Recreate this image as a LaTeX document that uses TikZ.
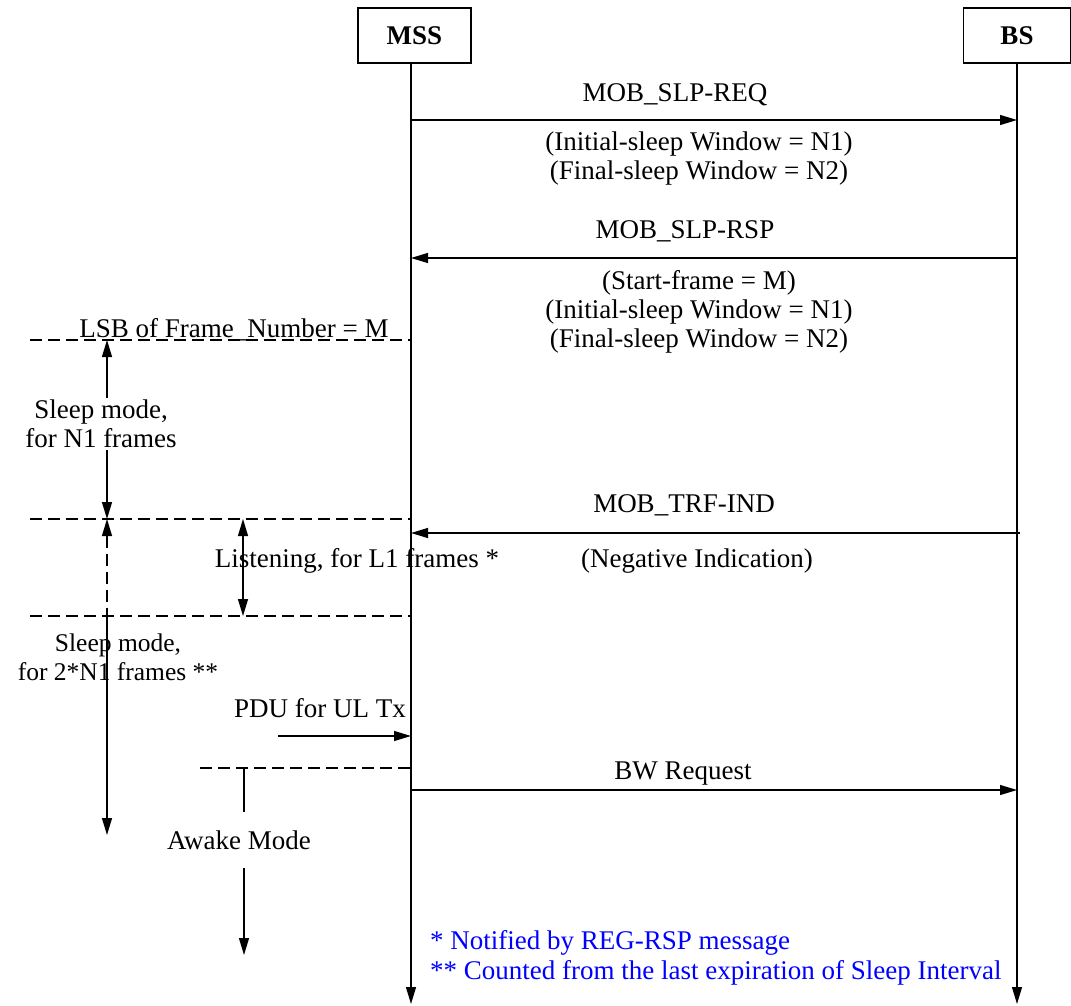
\documentclass[tikz,border=0pt]{standalone}
\usepackage{fontspec}
\setmainfont{Liberation Serif}
\usetikzlibrary{arrows.meta}
\begin{document}
\begin{tikzpicture}[x=1pt,y=-1pt,
  every node/.style={font=\fontsize{27}{29}\selectfont, inner sep=0pt, align=center},
  line/.style={line width=1.2pt},
  msg/.style={line width=1.2pt, -{Triangle[length=17pt,width=10pt]}},
  dbl/.style={line width=1.2pt, {Triangle[length=17pt,width=10pt]}-{Triangle[length=17pt,width=10pt]}},
  sep/.style={line width=1.4pt, dash pattern=on 12pt off 6pt},
  entity/.style={draw, line width=1.2pt, minimum height=55pt, font=\fontsize{27}{29}\selectfont\bfseries},
  note/.style={text=blue, anchor=west}]
\useasboundingbox (0,0) rectangle (1071,1006);
% entities
\node[entity, minimum width=113pt] (mss) at (414.5,35.5) {MSS};
\node[entity, minimum width=107pt] (bs) at (1017,35.5) {BS};
% lifeline coordinates
\coordinate (mtop) at (411,63);
\coordinate (mend) at (411,1004);
\coordinate (btop) at (1017,63);
\coordinate (bend) at (1017,1004);
\draw[msg] (mtop) -- (mend);
\draw[msg] (btop) -- (bend);
% message 1
\coordinate (m1a) at (411,120);
\coordinate (m1b) at (1017,120);
\draw[msg] (m1a) -- (m1b);
\node (t1) at (675,95) {MOB\_SLP-REQ};
\node (t1b) at (699,159) {(Initial-sleep Window = N1)\\(Final-sleep Window = N2)};
% message 2
\coordinate (m2a) at (1017,258);
\coordinate (m2b) at (411,258);
\draw[msg] (m2a) -- (m2b);
\node (t2) at (685,231) {MOB\_SLP-RSP};
\node (t2b) at (699,312) {(Start-frame = M)\\(Initial-sleep Window = N1)\\(Final-sleep Window = N2)};
% LSB line
\coordinate (d1a) at (30,340);
\coordinate (d1b) at (411,340);
\draw[sep] (d1a) -- (d1b);
\node (lsb) at (234,330) {LSB of Frame\_Number = M};
% sleep N1
\coordinate (s1a) at (107,340);
\coordinate (s1b) at (107,519);
\node[fill=white, inner sep=2pt] (s1) at (101,424) {Sleep mode,\\for N1 frames};
\draw[msg] (s1.north -| s1a) -- (s1a);
\draw[msg] (s1.south -| s1b) -- (s1b);
% line 2
\coordinate (d2a) at (30,519);
\coordinate (d2b) at (411,519);
\draw[sep] (d2a) -- (d2b);
% message 3
\coordinate (m3a) at (1020,533);
\coordinate (m3b) at (411,533);
\draw[msg] (m3a) -- (m3b);
\node (t3) at (684,505) {MOB\_TRF-IND};
\node (t3b) at (697,561) {(Negative Indication)};
% listening
\coordinate (l1a) at (243,519);
\coordinate (l1b) at (243,616);
\draw[dbl] (l1a) -- (l1b);
\node (lis) at (357,561) {Listening, for L1 frames *};
% line 3
\coordinate (d3a) at (30,616);
\coordinate (d3b) at (411,616);
\draw[sep] (d3a) -- (d3b);
% sleep 2N1
\coordinate (s2a) at (107,519);
\coordinate (s2m) at (107,616);
\coordinate (s2b) at (107,835);
\draw[line, dash pattern=on 12pt off 6pt, {Triangle[length=17pt,width=10pt]}-] (s2a) -- (s2m);
\draw[msg] (s2m) -- (s2b);
\node[font=\fontsize{25.5}{29}\selectfont] (s2) at (118,657) {Sleep mode,\\for 2*N1 frames **};
% PDU
\coordinate (pa) at (278,736);
\coordinate (pb) at (411,736);
\draw[msg] (pa) -- (pb);
\node (pdu) at (320,708) {PDU for UL Tx};
% line 4
\coordinate (d4a) at (200,768);
\coordinate (d4b) at (411,768);
\draw[sep] (d4a) -- (d4b);
% BW request
\coordinate (bwa) at (411,790);
\coordinate (bwb) at (1017,790);
\draw[msg] (bwa) -- (bwb);
\node (bw) at (683,774) {BW Request};
% awake
\coordinate (aw1) at (244,768);
\node (awake) at (239,840) {Awake Mode};
\coordinate (aw2) at (244,955);
\draw[line] (aw1) -- (aw1 |- 0,812);
\draw[msg] (aw2 |- 0,868) -- (aw2);
% notes
\node[note] (n1) at (430,943) {* Notified by REG-RSP message};
\node[note] (n2) at (430,973) {** Counted from the last expiration of Sleep Interval};
\end{tikzpicture}
\end{document}
